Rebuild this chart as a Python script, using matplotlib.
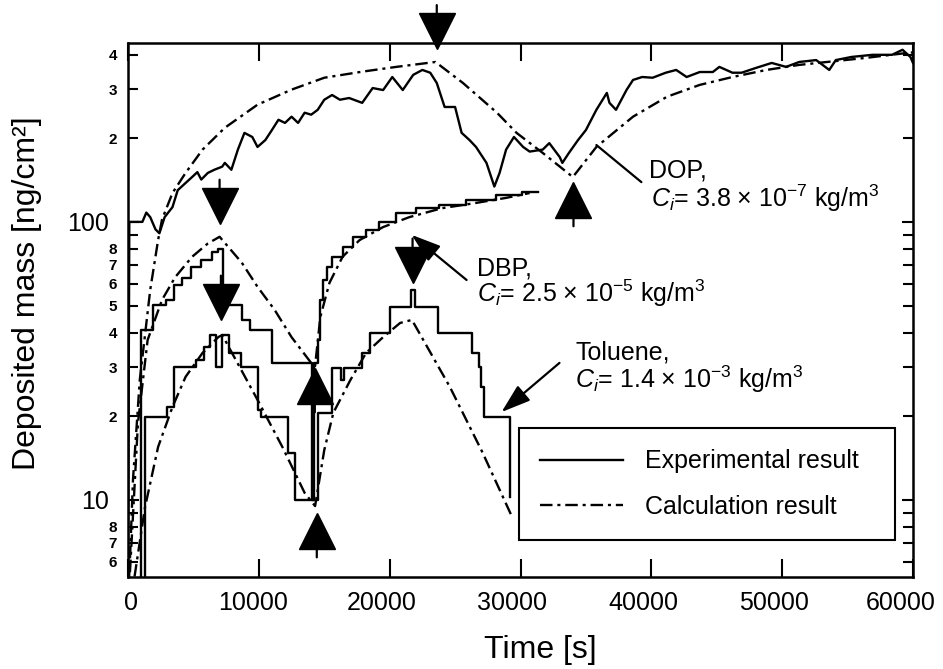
import matplotlib
matplotlib.use("Agg")
from matplotlib import pyplot as plt
from matplotlib.lines import Line2D
from matplotlib.ticker import FixedLocator, FuncFormatter, NullLocator
from matplotlib.transforms import ScaledTranslation

plt.rcParams["font.family"] = ["Liberation Sans", "DejaVu Sans"]
plt.rcParams["mathtext.fontset"] = "custom"
plt.rcParams["mathtext.rm"] = "Liberation Sans"
plt.rcParams["mathtext.it"] = "Liberation Sans:italic"
plt.rcParams["lines.scale_dashes"] = False

# values: time [s], deposited mass [ng/cm2]
# DOP, Ci = 3.8e-7 kg/m3
dop_exp_t = [0, 100, 1100, 1400, 1700, 2100, 2400, 2800, 3400, 3800, 4400, 4900, 5300, 5600,
             6100, 6600, 7200, 7400, 7900, 8400, 8900, 9500, 9900, 10500, 11000, 11500, 12000,
             12500, 13000, 13500, 14000, 14500, 15000, 15600, 16200, 16900, 17900, 18700, 19500,
             20200, 21000, 21800, 22500, 23100, 23600, 24200, 25000, 25500, 26100, 26600, 27400,
             28000, 28400, 28900, 29500, 30200, 30700, 31700, 32200, 33000, 33200, 33700, 34400,
             35000, 35800, 36600, 36800, 37300, 38100, 38600, 39300, 40100, 41100, 41900, 42700,
             43700, 44700, 45200, 46200, 46900, 48000, 49200, 50300, 51300, 52600, 53600, 54100,
             55300, 56900, 58400, 59200, 59800, 60000]
dop_exp_m = [5.0, 100, 100, 108, 104, 94, 91, 104, 113, 130, 138, 145, 151, 142,
             150, 154, 158, 163, 154, 182, 209, 202, 186, 197, 214, 233, 227,
             239, 227, 247, 243, 253, 275, 286, 275, 279, 268, 303, 298,
             332, 298, 338, 352, 344, 316, 259, 259, 209, 197, 186, 163,
             134, 150, 182, 202, 186, 179, 182, 192, 171, 163, 177, 197,
             214, 253, 291, 268, 253, 298, 324, 332, 330, 344, 352, 332,
             346, 346, 361, 344, 344, 358, 373, 361, 376, 382, 352, 382,
             392, 399, 399, 416, 392, 373]
dop_calc_t = [60, 150, 380, 900, 1700, 2300, 2600, 3400, 4400, 5700, 7400, 9900, 12500, 15000,
              17900, 20500, 23500, 25600, 28200, 29700, 31700, 34000, 35800, 38600, 41200,
              43700, 46200, 48800, 51300, 56400, 59500, 60000]
dop_calc_m = [5.0, 6.1, 11.8, 27, 57, 86, 102, 127, 150, 182, 218, 264, 299, 330,
              347, 361, 376, 316, 247, 209, 177, 145, 186, 239, 282,
              311, 332, 352, 367, 389, 405, 407]

# DBP, Ci = 2.5e-5 kg/m3 (experiment drawn as steps)
dbp_exp_t = [0, 1000, 1900, 2900, 3500, 4100, 4800, 5600, 6400, 6900, 7250, 8700, 9300, 11000,
             14100, 14250, 14500, 14700, 14900, 15200, 15600, 16400, 17200, 18200, 19200, 20500,
             22000, 23800, 25800, 28100, 30100, 31300]
dbp_exp_m = [5.0, 40.8, 50.3, 52.4, 59.3, 62.8, 68.8, 73.0, 78.0, 80.0, 50.3, 44.4, 40.8, 31.1,
             10.0, 31.0, 37.6, 52.4, 61.9, 68.8, 74.9, 81.3, 88.4, 93.6, 100, 108,
             112, 115, 120, 125, 128, 128]
dbp_calc_t = [150, 760, 1500, 2600, 3600, 4900, 6100, 7000, 8700, 9900, 11200, 12500, 14000,
              14300, 14700, 15400, 16400, 17700, 19500, 21500, 24000, 26600, 28900, 30700]
dbp_calc_m = [5.5, 18.9, 37.6, 52.4, 63.2, 74.9, 83.6, 88.4, 71.3, 58.4, 48.3, 38.5, 31.1,
              30.3, 45.5, 60.4, 74.9, 86.0, 95.8, 104, 112, 117, 122, 127]

# Toluene, Ci = 1.4e-3 kg/m3
tol_exp_t = [0, 1300, 3000, 3500, 5200, 5800, 6300, 6700, 7200, 7700, 8600, 9900, 10200, 12200,
             12800, 14500, 15600, 16300, 16500, 17900, 18500, 20000, 21600, 21900, 23700, 26300,
             26800, 27000, 27200, 29200]
tol_exp_m = [5.0, 19.9, 21.6, 30.0, 31.9, 35.5, 39.2, 30.0, 39.2, 33.8, 30.0, 21.0, 19.9, 14.7,
             10.0, 20.6, 29.8, 27.0, 29.8, 33.8, 40.0, 49.5, 56.9, 49.5, 40.0, 33.8,
             30.1, 25.5, 19.8, 10.2]
tol_calc_t = [500, 1300, 2300, 3400, 4400, 5700, 6900, 7200, 9900, 11800, 13500, 14300, 15000,
              15700, 17000, 18200, 19500, 20800, 21700, 24600, 27100, 29300]
tol_calc_m = [5.3, 9.4, 15.5, 21.6, 27.7, 33.8, 38.5, 39.2, 22.9, 15.5, 10.6, 9.5, 15.1,
              20.6, 27.0, 33.8, 38.5, 43.3, 44.4, 25.5, 14.8, 8.8]

# supply stopped (down triangles) / restarted (up triangles)
stop_t = [23600, 7000, 7100, 21750]
stop_m = [484, 114, 51.5, 70]
start_t = [34050, 14280, 14430]
start_m = [120, 25.7, 7.73]

x_ticks = [0, 10000, 20000, 30000, 40000, 50000, 60000]
y_major = [10, 100]
y_minor = [6, 7, 8, 9, 20, 30, 40, 50, 60, 70, 80, 90, 200, 300, 400]
minor_labels = {6: "6", 7: "7", 8: "8", 20: "2", 30: "3", 40: "4", 50: "5", 60: "6",
                70: "7", 80: "8", 200: "2", 300: "3", 400: "4"}

lw = 1.7
dashdot = (0, (9, 3.5, 2.2, 3.5))

fig = plt.figure(figsize=(9.43, 6.69), dpi=100)
ax = fig.add_axes([128 / 943, 92 / 669, 785 / 943, 534 / 669])

ax.plot(dop_exp_t, dop_exp_m, color="k", lw=lw)
ax.step(dbp_exp_t, dbp_exp_m, where="post", color="k", lw=lw)
ax.step(tol_exp_t, tol_exp_m, where="post", color="k", lw=lw)
for t, m in [(dop_calc_t, dop_calc_m), (dbp_calc_t, dbp_calc_m), (tol_calc_t, tol_calc_m)]:
    ax.plot(t, m, color="k", lw=lw, linestyle=dashdot)

# triangles with a short stem
ax.plot(stop_t, stop_m, linestyle="none", marker="v", ms=26, color="k", clip_on=False, zorder=5)
ax.plot(start_t, start_m, linestyle="none", marker="^", ms=26, color="k", clip_on=False, zorder=5)
stem = dict(arrowstyle="-", lw=1.6, color="k", shrinkA=0, shrinkB=0)
for t, m in zip(stop_t, stop_m):
    ax.annotate("", xy=(t, m), xytext=(0, 19), textcoords="offset points",
                arrowprops=stem, annotation_clip=False)
for t, m in zip(start_t, start_m):
    ax.annotate("", xy=(t, m), xytext=(0, -19), textcoords="offset points",
                arrowprops=stem, annotation_clip=False)

# labels of the three compounds
ax.text(39850, 144, "DOP,", fontsize=18)
ax.text(40000, 113, r"$C_i$= 3.8 × 10$^{-7}$ kg/m$^3$", fontsize=18)
ax.annotate("", xy=(35800, 189), xytext=(39240, 139), arrowprops=stem)

ax.text(26640, 64.4, "DBP,", fontsize=18)
ax.text(26640, 51.5, r"$C_i$= 2.5 × 10$^{-5}$ kg/m$^3$", fontsize=18)
head = dict(arrowstyle="-|>,head_length=0.9,head_width=0.3", mutation_scale=20, lw=1.6,
            color="k", shrinkA=0, shrinkB=0)
ax.annotate("", xy=(21680, 89.8), xytext=(25880, 61.8), arrowprops=head, zorder=6)

ax.text(34200, 31.9, "Toluene,", fontsize=18)
ax.text(34200, 25.3, r"$C_i$= 1.4 × 10$^{-3}$ kg/m$^3$", fontsize=18)
ax.annotate("", xy=(28550, 20.7), xytext=(32980, 31.1), arrowprops=head)

ax.set_xlim(0, 60000)
ax.set_yscale("log")
ax.set_ylim(5.28, 440)

ax.xaxis.set_major_locator(FixedLocator(x_ticks))
ax.xaxis.set_minor_locator(NullLocator())
ax.yaxis.set_major_locator(FixedLocator(y_major))
ax.yaxis.set_major_formatter(FuncFormatter(lambda v, p: f"{v:g}"))
ax.yaxis.set_minor_locator(FixedLocator(y_minor))
ax.yaxis.set_minor_formatter(FuncFormatter(lambda v, p: minor_labels.get(int(round(v)), "")))

ax.tick_params(axis="both", which="both", direction="in", top=True, right=True, width=1.5)
ax.tick_params(axis="x", which="major", length=13, labelsize=18, pad=10)
ax.tick_params(axis="y", which="major", length=8, labelsize=18, pad=14)
ax.tick_params(axis="y", which="minor", length=7, labelsize=11, pad=8)
plt.setp(ax.yaxis.get_minorticklabels(), fontweight="bold")
for s in ax.spines.values():
    s.set_linewidth(1.8)

# the x tick labels sit a little left of their ticks in the original
fig.canvas.draw()
for lab, dx in zip(ax.get_xticklabels(), [3, -6, -8, -8, -8, -8, -12]):
    lab.set_transform(lab.get_transform() + ScaledTranslation(dx / 100, 0, fig.dpi_scale_trans))

ax.set_xlabel("Time [s]", fontsize=23)
ax.xaxis.set_label_coords(0.525, -0.108)
ax.set_ylabel("Deposited mass [ng/cm²]", fontsize=23)
ax.yaxis.set_label_coords(-0.110, 0.532)

handles = [Line2D([], [], color="k", lw=lw), Line2D([], [], color="k", lw=lw, linestyle=dashdot)]
leg = ax.legend(handles, ["Experimental result", "Calculation result"], loc="upper left",
                bbox_to_anchor=(0.498, 0.071, 0.479, 0.208), mode="expand", fontsize=18,
                fancybox=False, framealpha=1, edgecolor="k", handlelength=3.3,
                handletextpad=0.9, borderpad=0.85, labelspacing=0.85, borderaxespad=0)
leg.get_frame().set_linewidth(1.5)

fig.savefig("out.png", dpi=100)
